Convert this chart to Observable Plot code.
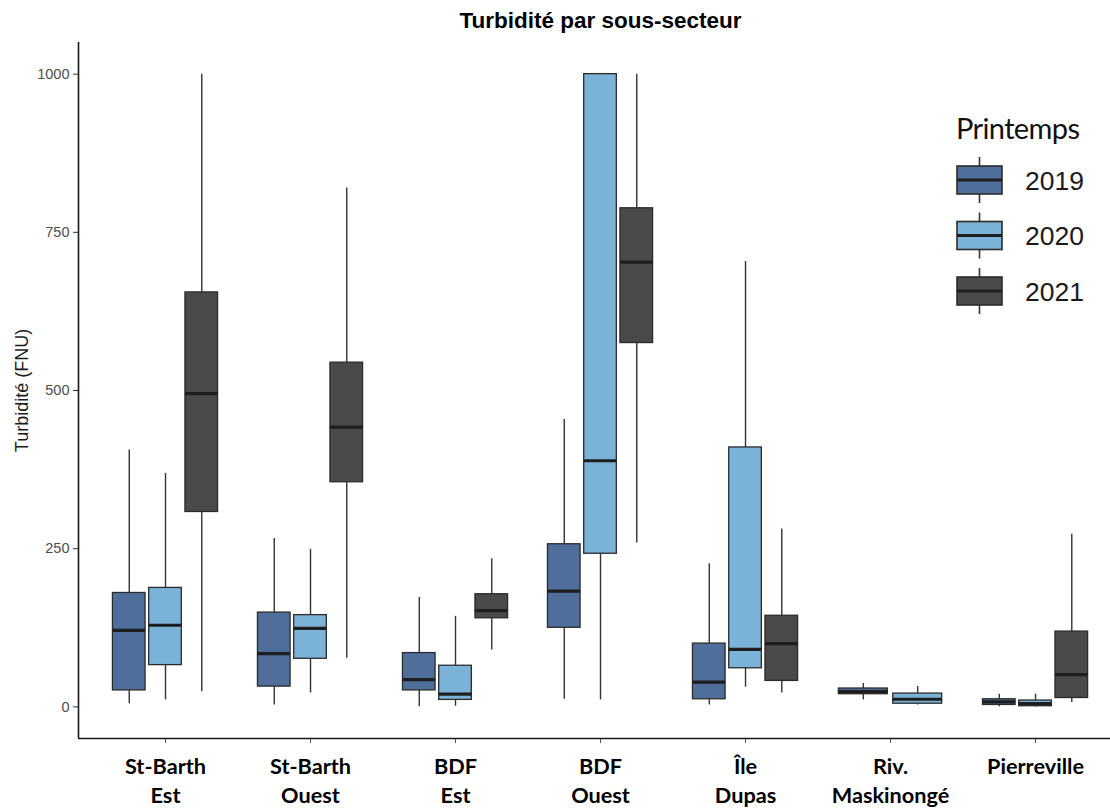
<!DOCTYPE html>
<html>
<head>
<meta charset="utf-8">
<script src="https://cdn.jsdelivr.net/npm/d3@7"></script>
<script src="https://cdn.jsdelivr.net/npm/@observablehq/plot@0.6"></script>
<style>
  html, body { margin: 0; padding: 0; background: #fff; }
  #wrap { position: relative; width: 1110px; height: 809px; }
  #legend { position: absolute; left: 0; top: 0; pointer-events: none; }
</style>
</head>
<body>
<div id="wrap"></div>
<script>
// ---- data ----
const title = "Turbidité par sous-secteur";
const yLabel = "Turbidité (FNU)";
const legendTitle = "Printemps";
const categories = ["St-Barth\nEst", "St-Barth\nOuest", "BDF\nEst", "BDF\nOuest", "Île\nDupas", "Riv.\nMaskinongé", "Pierreville"];
const years = ["2019", "2020", "2021"];
const yearColors = ["#4f6e9b", "#7ab2d8", "#4a4a4a"];
const yTicks = [0, 250, 500, 750, 1000];

const boxCategory = [0, 0, 0, 1, 1, 1, 2, 2, 2, 3, 3, 3, 4, 4, 4, 5, 5, 6, 6, 6];
const boxYear = ["2019","2020","2021","2019","2020","2021","2019","2020","2021","2019","2020","2021","2019","2020","2021","2019","2020","2019","2020","2021"];
const whiskerLow  = [5, 11, 24, 3, 22, 77, 0, 1, 90, 12, 11, 259, 3, 31, 22, 11, 3, 0, 0, 7];
const q1          = [26, 66, 308, 32, 76, 355, 26, 11, 140, 125, 242, 575, 12, 61, 41, 20, 5, 3, 1, 14];
const median      = [121, 129, 495, 84, 124, 442, 43, 20, 152, 183, 389, 703, 39, 91, 100, 24, 12, 8, 5, 51];
const q3          = [180, 188, 655, 149, 145, 544, 85, 65, 178, 257, 1000, 788, 100, 410, 144, 29, 21, 12, 10, 119];
const whiskerHigh = [406, 369, 1000, 266, 249, 820, 173, 143, 234, 454, 1000, 1000, 226, 704, 281, 37, 32, 20, 20, 273];

// ---- build table with dodge positions (ggplot-like dodge2, width 0.75, padding 0.1) ----
const rows = boxCategory.map((c, i) => ({
  cat: c, year: boxYear[i], low: whiskerLow[i], q1: q1[i], med: median[i], q3: q3[i], high: whiskerHigh[i]
}));
const groups = d3.group(rows, d => d.cat);
for (const [c, g] of groups) {
  const n = g.length, slot = 0.75 / n;
  g.forEach((d, j) => {
    d.xc = c - 0.375 + slot * (j + 0.5);
    d.x1 = d.xc - 0.45 * slot;
    d.x2 = d.xc + 0.45 * slot;
  });
}

const yDomain = [-50, 1050];
const xDomain = [-0.6, 6.517];

const chart = Plot.plot({
  width: 1110,
  height: 809,
  marginTop: 42,
  marginBottom: 71,
  marginLeft: 78,
  marginRight: 0,
  style: { fontFamily: "Liberation Sans, Arial, sans-serif", background: "#fff" },
  x: { domain: xDomain, axis: null },
  y: { domain: yDomain, axis: null },
  color: { domain: years, range: yearColors },
  marks: [
    Plot.ruleX(rows, { x: "xc", y1: "q3", y2: "high", stroke: "#333", strokeWidth: 1.4 }),
    Plot.ruleX(rows, { x: "xc", y1: "low", y2: "q1", stroke: "#333", strokeWidth: 1.4 }),
    Plot.rect(rows, { x1: "x1", x2: "x2", y1: "q1", y2: "q3", fill: "year", stroke: "#2b2b2b", strokeWidth: 1.3 }),
    Plot.ruleY(rows, { x1: "x1", x2: "x2", y: "med", stroke: "#1e1e1e", strokeWidth: 3.2 }),
    Plot.axisY({ ticks: yTicks, tickFormat: d => String(d), tickSize: 5, tickPadding: 4, fontSize: 14.5, fill: "#4d4d4d", stroke: "#333", label: null }),
    Plot.axisX({
      ticks: d3.range(categories.length), tickFormat: i => categories[i],
      tickSize: 5, tickPadding: 10, fontSize: 21.7, fontWeight: "bold", fontFamily: "Lato, sans-serif",
      fill: "#000", stroke: "#555", lineHeight: 1.33, label: null
    }),
    Plot.ruleY([yDomain[0]], { stroke: "#1a1a1a", strokeWidth: 1.6 }),
    Plot.ruleX([xDomain[0]], { stroke: "#1a1a1a", strokeWidth: 1.6 }),
    Plot.text([yLabel], { frameAnchor: "left", textAnchor: "middle", rotate: -90, dx: -56, fontSize: 18, fill: "#1a1a1a" }),
    Plot.text([title], { frameAnchor: "top", dx: 6, dy: -15, lineAnchor: "bottom", fontSize: 22.5, fontWeight: "bold", fill: "#000" })
  ]
});
document.getElementById("wrap").appendChild(chart);

// ---- legend ----
const leg = d3.create("svg").attr("id", "legend").attr("width", 1110).attr("height", 809);
leg.append("text").attr("x", 956).attr("y", 139).attr("font-family", "Lato, sans-serif")
  .attr("font-size", 29).attr("fill", "#111").attr("textLength", 124).text(legendTitle);
years.forEach((yr, i) => {
  const cy = 180 + i * 55.5;
  const g = leg.append("g");
  g.append("line").attr("x1", 979.5).attr("x2", 979.5).attr("y1", cy - 23).attr("y2", cy + 23)
    .attr("stroke", "#333").attr("stroke-width", 1.6);
  g.append("rect").attr("x", 957).attr("y", cy - 14).attr("width", 45).attr("height", 28)
    .attr("fill", yearColors[i]).attr("stroke", "#2b2b2b").attr("stroke-width", 1.6);
  g.append("line").attr("x1", 957).attr("x2", 1002).attr("y1", cy).attr("y2", cy)
    .attr("stroke", "#1e1e1e").attr("stroke-width", 3);
  g.append("text").attr("x", 1025).attr("y", cy + 9.5).attr("font-family", "Liberation Sans, Arial, sans-serif")
    .attr("font-size", 26.5).attr("fill", "#1a1a1a").text(yr);
});
document.getElementById("wrap").appendChild(leg.node());
</script>
</body>
</html>
